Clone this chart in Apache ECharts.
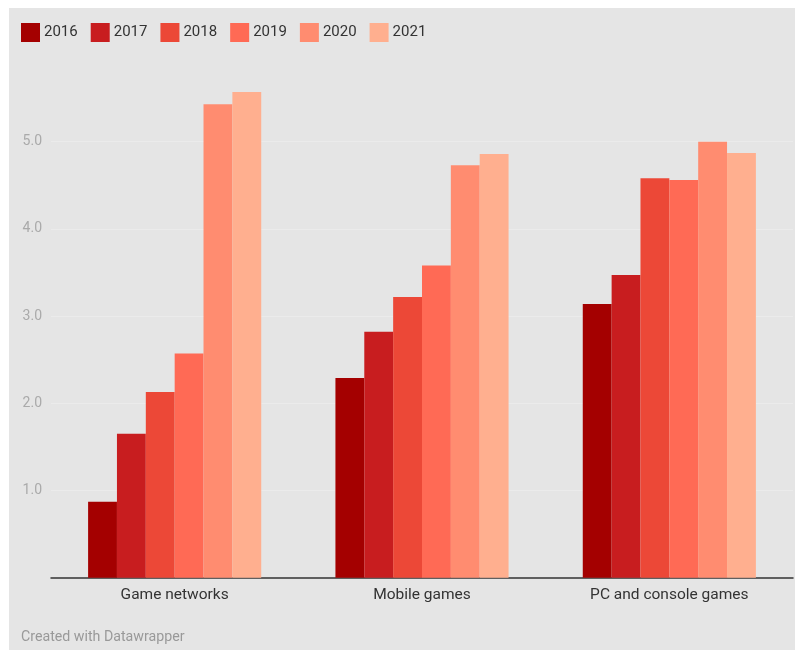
<!DOCTYPE html>
<html>
<head>
<meta charset="utf-8">
<script src="https://cdn.jsdelivr.net/npm/echarts@6/dist/echarts.min.js"></script>
<style>
  html, body { margin: 0; padding: 0; background: #ffffff; }
  #frame { position: absolute; left: 9px; top: 8px; width: 786px; height: 642px; background: #e5e5e5; }
  #chart { position: absolute; left: -9px; top: -8px; width: 795px; height: 653px; }
</style>
</head>
<body>
<div id="frame"><div id="chart"></div></div>
<script>
// Categories and yearly values
const categories = ['Game networks', 'Mobile games', 'PC and console games'];
const years = ['2016', '2017', '2018', '2019', '2020', '2021'];
const values2016 = [0.87, 2.29, 3.14];
const values2017 = [1.65, 2.82, 3.47];
const values2018 = [2.13, 3.22, 4.58];
const values2019 = [2.57, 3.58, 4.56];
const values2020 = [5.43, 4.73, 5.00];
const values2021 = [5.57, 4.86, 4.87];
const yearColors = ['#a40000', '#c81d1f', '#ec4837', '#ff6a55', '#ff8c70', '#ffaf8f'];

const seriesValues = [values2016, values2017, values2018, values2019, values2020, values2021];

const chart = echarts.init(document.getElementById('chart'), null, { renderer: 'canvas' });

chart.setOption({
  backgroundColor: 'transparent',
  animation: false,
  textStyle: { fontFamily: 'Roboto' },
  legend: {
    left: 16,
    top: 18,
    icon: 'rect',
    itemWidth: 19,
    itemHeight: 19,
    itemGap: 13,
    textStyle: { fontSize: 15, color: '#333333', fontFamily: 'Roboto', padding: [0, 0, 0, -1] },
    data: years
  },
  grid: { left: 51, right: 2, top: 54.5, bottom: 75.3, containLabel: false },
  xAxis: {
    type: 'category',
    data: categories,
    axisLine: { show: true, lineStyle: { color: '#333333', width: 1.5 } },
    axisTick: { show: false },
    axisLabel: { color: '#333333', fontSize: 15.5, margin: 9, fontFamily: 'Roboto' }
  },
  yAxis: {
    type: 'value',
    min: 0,
    max: 6,
    interval: 1,
    axisLine: { show: false },
    axisTick: { show: false },
    axisLabel: {
      showMinLabel: false,
      showMaxLabel: false,
      color: '#aaaaaa',
      fontSize: 14,
      margin: 9,
      fontFamily: 'Roboto',
      formatter: v => v.toFixed(1)
    },
    splitLine: { show: true, showMinLine: false, showMaxLine: false, lineStyle: { color: '#ebebeb', width: 1 } }
  },
  series: years.map((y, i) => ({
    name: y,
    type: 'bar',
    data: seriesValues[i],
    barGap: '0%',
    barCategoryGap: '30%',
    itemStyle: { color: yearColors[i] }
  })),
  graphic: [{
    type: 'text',
    left: 21,
    top: 630,
    style: { text: 'Created with Datawrapper', fill: '#999999', fontSize: 14.2, fontFamily: 'Roboto' }
  }]
});
</script>
</body>
</html>
